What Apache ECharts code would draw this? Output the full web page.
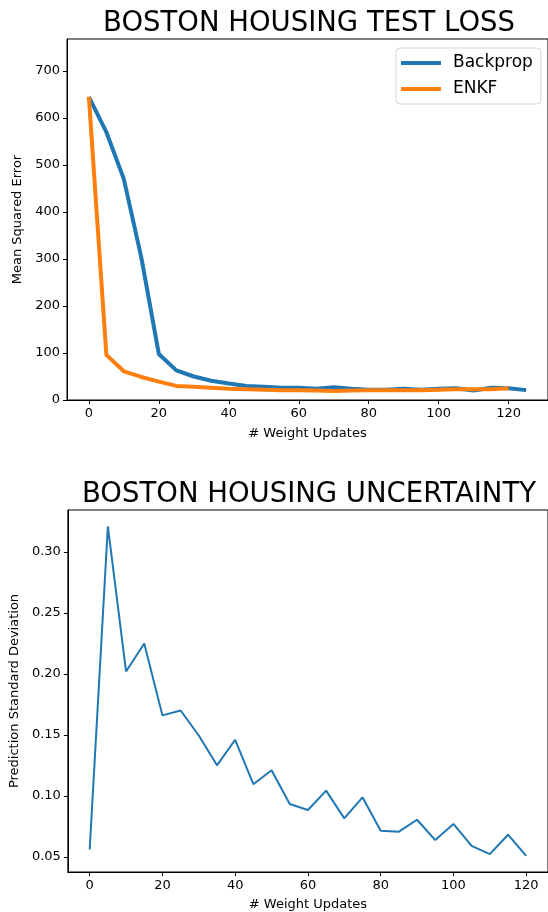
<!DOCTYPE html>
<html>
<head>
<meta charset="utf-8">
<script src="https://cdn.jsdelivr.net/npm/echarts@6/dist/echarts.min.js"></script>
<style>
  html, body { margin: 0; padding: 0; background: #fff; }
  #chart { width: 548px; height: 912px; }
</style>
</head>
<body>
<div id="chart"></div>
<script>
// 数据
var lossSteps = [0, 5, 10, 15, 20, 25, 30, 35, 40, 45, 50, 55, 60, 65, 70, 75, 80, 85, 90, 95, 100, 105, 110, 115, 120, 125];
var backprop = [645, 570, 470, 303, 98, 63, 50, 41, 35, 30, 28, 26, 26, 24, 27, 24, 22, 22, 24, 22, 24, 25, 20, 26, 25, 21];
var enkfSteps = [0, 5, 10, 15, 20, 25, 30, 35, 40, 45, 50, 55, 60, 65, 70, 75, 80, 85, 90, 95, 100, 105, 110, 115, 120];
var enkf = [645, 96, 61, 49, 39, 30, 28, 26, 24, 23, 22, 21, 21, 20, 19, 20, 21, 21, 21, 21, 22, 23, 23, 23, 25];
var uncSteps = [0, 5, 10, 15, 20, 25, 30, 35, 40, 45, 50, 55, 60, 65, 70, 75, 80, 85, 90, 95, 100, 105, 110, 115, 120];
var uncStd = [0.056, 0.321, 0.202, 0.225, 0.166, 0.170, 0.1495, 0.125, 0.146, 0.1095, 0.121, 0.0933, 0.0884, 0.1043, 0.0815, 0.0988, 0.0714, 0.0706, 0.0804, 0.0637, 0.0769, 0.059, 0.0522, 0.0681, 0.0508];

var xTicks = [0, 20, 40, 60, 80, 100, 120];
var lossTicks = [0, 100, 200, 300, 400, 500, 600, 700];
var uncTicks = [0.05, 0.10, 0.15, 0.20, 0.25, 0.30];

function pairs(xs, ys) {
    var out = [];
    for (var i = 0; i < ys.length; i++) {
        out.push([xs[i], ys[i]]);
    }
    return out;
}

var font = 'DejaVu Sans';
var txt = { fontFamily: font, fontSize: 13, color: '#000' };

function xAxisOpt(idx, min, max, gap) {
    return {
        type: 'value',
        gridIndex: idx,
        min: min,
        max: max,
        name: '# Weight Updates',
        nameLocation: 'middle',
        nameGap: gap,
        nameTextStyle: txt,
        splitLine: { show: false },
        axisLine: { onZero: false, lineStyle: { color: '#000', width: 1 } },
        axisTick: { customValues: xTicks, length: 4, inside: false, lineStyle: { color: '#000' } },
        axisLabel: { customValues: xTicks, margin: 7, fontFamily: font, fontSize: 13, color: '#000' }
    };
}

function yAxisOpt(idx, min, max, ticks, name, gap, fmt) {
    return {
        type: 'value',
        gridIndex: idx,
        min: min,
        max: max,
        name: name,
        nameLocation: 'middle',
        nameGap: gap,
        nameTextStyle: txt,
        splitLine: { show: false },
        axisLine: { show: true, onZero: false, lineStyle: { color: '#000', width: 1 } },
        axisTick: { show: true, customValues: ticks, length: 4, lineStyle: { color: '#000' } },
        axisLabel: { customValues: ticks, margin: 7, fontFamily: font, fontSize: 13, color: '#000', formatter: fmt }
    };
}

var chart = echarts.init(document.getElementById('chart'), null, { renderer: 'canvas' });

var option = {
    backgroundColor: '#fff',
    animation: false,
    title: [{
        text: 'BOSTON HOUSING TEST LOSS',
        left: 304, top: 5, textAlign: 'center',
        textStyle: { fontFamily: font, fontSize: 27.5, fontWeight: 'normal', color: '#000' }
    }, {
        text: 'BOSTON HOUSING UNCERTAINTY',
        left: 304, top: 476, textAlign: 'center',
        textStyle: { fontFamily: font, fontSize: 27.5, fontWeight: 'normal', color: '#000' }
    }],
    legend: {
        left: 396, top: 48,
        orient: 'vertical',
        data: ['Backprop', 'ENKF'],
        icon: 'rect',
        itemWidth: 40,
        itemHeight: 4,
        itemGap: 6,
        padding: [5, 8, 5, 5],
        backgroundColor: '#fff',
        borderColor: '#d6d6d6',
        borderWidth: 1,
        borderRadius: 4,
        textStyle: { fontFamily: font, fontSize: 17, lineHeight: 20, color: '#000', padding: [0, 0, 0, 7] }
    },
    grid: [
        { left: 67, top: 39, width: 484, height: 361, show: true, borderColor: '#000', borderWidth: 1, backgroundColor: 'transparent' },
        { left: 67, top: 510, width: 484, height: 362, show: true, borderColor: '#000', borderWidth: 1, backgroundColor: 'transparent' }
    ],
    xAxis: [
        xAxisOpt(0, -6.25, 131.25, 27),
        xAxisOpt(1, -6, 126, 26)
    ],
    yAxis: [
        yAxisOpt(0, 0, 768, lossTicks, 'Mean Squared Error', 43, function (v) { return String(v); }),
        yAxisOpt(1, 0.0375, 0.3345, uncTicks, 'Prediction Standard Deviation', 45, function (v) { return v.toFixed(2); })
    ],
    series: [{
        name: 'Backprop',
        type: 'line',
        xAxisIndex: 0, yAxisIndex: 0,
        data: pairs(lossSteps, backprop),
        showSymbol: false,
        color: '#1f77b4',
        lineStyle: { width: 4, color: '#1f77b4' }
    }, {
        name: 'ENKF',
        type: 'line',
        xAxisIndex: 0, yAxisIndex: 0,
        data: pairs(enkfSteps, enkf),
        showSymbol: false,
        color: '#ff7f0e',
        lineStyle: { width: 4, color: '#ff7f0e' }
    }, {
        name: 'Uncertainty',
        type: 'line',
        xAxisIndex: 1, yAxisIndex: 1,
        data: pairs(uncSteps, uncStd),
        showSymbol: false,
        color: '#1f77b4',
        lineStyle: { width: 2, color: '#1f77b4' }
    }]
};

chart.setOption(option);
</script>
</body>
</html>
